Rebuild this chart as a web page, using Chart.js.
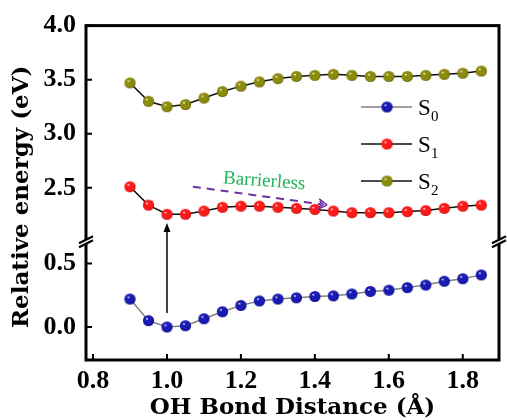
<!DOCTYPE html>
<html>
<head>
<meta charset="utf-8">
<title>Relative energy vs OH bond distance</title>
<script src="https://cdn.jsdelivr.net/npm/chart.js@4"></script>
<style>
  body { margin: 0; background: #fff; }
</style>
</head>
<body>
<canvas id="myChart" width="507" height="420"></canvas>
<script>
// OH bond distance (Å)
const bondLength = [0.90, 0.95, 1.00, 1.05, 1.10, 1.15, 1.20, 1.25, 1.30, 1.35,
                    1.40, 1.45, 1.50, 1.55, 1.60, 1.65, 1.70, 1.75, 1.80, 1.85];
// relative energies (eV)
const s0 = [0.22, 0.05, 0.00, 0.01, 0.065, 0.12, 0.17, 0.205, 0.22, 0.23,
            0.24, 0.245, 0.26, 0.28, 0.29, 0.31, 0.33, 0.36, 0.38, 0.41];
const s1 = [2.51, 2.34, 2.255, 2.255, 2.285, 2.32, 2.33, 2.33, 2.32, 2.31,
            2.30, 2.285, 2.27, 2.27, 2.27, 2.28, 2.29, 2.31, 2.33, 2.34];
const s2 = [3.47, 3.30, 3.25, 3.27, 3.33, 3.39, 3.44, 3.48, 3.51, 3.53,
            3.54, 3.55, 3.54, 3.53, 3.53, 3.53, 3.54, 3.55, 3.56, 3.58];

const xTicks = [0.8, 1.0, 1.2, 1.4, 1.6, 1.8];
const lowTicks = [0.0, 0.5];
const highTicks = [2.5, 3.0, 3.5, 4.0];

// shaded little balls for the markers
function ball(color, dark) {
    const c = document.createElement('canvas');
    c.width = 13; c.height = 13;
    const g = c.getContext('2d');
    const grad = g.createRadialGradient(4.8, 4.4, 0.2, 6.5, 6.5, 6);
    grad.addColorStop(0, '#ffffff');
    grad.addColorStop(0.22, color);
    grad.addColorStop(0.75, color);
    grad.addColorStop(1, dark);
    g.fillStyle = grad;
    g.beginPath();
    g.arc(6.5, 6.5, 5.6, 0, Math.PI * 2);
    g.fill();
    return c;
}
const blueBall = ball('#1a1ab4', '#000070');
const redBall = ball('#ff1a1a', '#b00000');
const oliveBall = ball('#8c8c0c', '#505000');

function pts(ys) {
    return bondLength.map((x, i) => ({ x: x, y: ys[i] }));
}

const tickFont = { family: 'Liberation Serif', weight: 'bold', size: 26 };

const decor = {
    id: 'decor',
    afterDraw(chart) {
        const ctx = chart.ctx;
        const a = chart.chartArea;
        const sx = chart.scales.x, lo = chart.scales.yLow, hi = chart.scales.yHigh;
        ctx.save();

        // inward ticks
        ctx.strokeStyle = '#000';
        ctx.lineWidth = 2;
        ctx.beginPath();
        xTicks.forEach(v => {
            const p = sx.getPixelForValue(v);
            ctx.moveTo(p, a.bottom); ctx.lineTo(p, a.bottom - 6);
        });
        lowTicks.forEach(v => {
            const p = lo.getPixelForValue(v);
            ctx.moveTo(a.left, p); ctx.lineTo(a.left + 6, p);
        });
        highTicks.forEach(v => {
            const p = hi.getPixelForValue(v);
            ctx.moveTo(a.left, p); ctx.lineTo(a.left + 6, p);
        });
        ctx.stroke();

        // frame
        ctx.lineWidth = 3;
        ctx.strokeRect(a.left, a.top, a.right - a.left, a.bottom - a.top);

        // axis break marks
        const by = hi.bottom;
        [a.left, a.right].forEach(bx => {
            ctx.fillStyle = '#fff';
            ctx.beginPath();
            ctx.moveTo(bx - 7, by + 5.5); ctx.lineTo(bx + 7, by - 1.5);
            ctx.lineTo(bx + 7, by - 5.5); ctx.lineTo(bx - 7, by + 1.5);
            ctx.closePath(); ctx.fill();
            ctx.strokeStyle = '#000';
            ctx.lineWidth = 2.2;
            ctx.beginPath();
            ctx.moveTo(bx - 7, by + 1.5); ctx.lineTo(bx + 7, by - 5.5);
            ctx.moveTo(bx - 7, by + 5.5); ctx.lineTo(bx + 7, by - 1.5);
            ctx.stroke();
        });

        // y title
        ctx.fillStyle = '#000';
        ctx.font = 'bold 23px "DejaVu Serif"';
        ctx.textAlign = 'center';
        ctx.textBaseline = 'middle';
        ctx.translate(22, (a.top + a.bottom) / 2 + 4);
        ctx.rotate(-Math.PI / 2);
        ctx.fillText('Relative energy (eV)', 0, 0);
        ctx.setTransform(1, 0, 0, 1, 0, 0);

        // legend
        const balls = [blueBall, redBall, oliveBall];
        chart.data.datasets.forEach((ds, i) => {
            const ly = 107 + i * 37;
            ctx.strokeStyle = ds.borderColor;
            ctx.lineWidth = 1.5;
            ctx.beginPath();
            ctx.moveTo(361, ly); ctx.lineTo(412, ly);
            ctx.stroke();
            ctx.drawImage(balls[i], 387 - 6.5, ly - 6.5);
            ctx.fillStyle = '#000';
            ctx.textAlign = 'left';
            ctx.textBaseline = 'alphabetic';
            ctx.font = '23px "Liberation Serif"';
            ctx.fillText(ds.label[0], 418, ly + 8);
            ctx.font = '15px "Liberation Serif"';
            ctx.fillText(ds.label.slice(1), 431, ly + 14);
        });

        // vertical excitation arrow
        const ax = sx.getPixelForValue(1.0);
        const ay0 = lo.getPixelForValue(0.11);
        const ay1 = hi.getPixelForValue(2.175);
        ctx.strokeStyle = '#000';
        ctx.fillStyle = '#000';
        ctx.lineWidth = 1.5;
        ctx.beginPath();
        ctx.moveTo(ax, ay0); ctx.lineTo(ax, ay1 + 6);
        ctx.stroke();
        ctx.beginPath();
        ctx.moveTo(ax, ay1); ctx.lineTo(ax - 3.5, ay1 + 9); ctx.lineTo(ax + 3.5, ay1 + 9);
        ctx.closePath(); ctx.fill();

        // dashed "barrierless" arrow
        const dx0 = sx.getPixelForValue(1.07), dy0 = hi.getPixelForValue(2.51);
        const dx1 = sx.getPixelForValue(1.433), dy1 = hi.getPixelForValue(2.34);
        const ang = Math.atan2(dy1 - dy0, dx1 - dx0);
        ctx.strokeStyle = '#7030a0';
        ctx.lineWidth = 2;
        ctx.setLineDash([8, 6]);
        ctx.beginPath();
        ctx.moveTo(dx0, dy0); ctx.lineTo(dx1 - 6 * Math.cos(ang), dy1 - 6 * Math.sin(ang));
        ctx.stroke();
        ctx.setLineDash([]);
        ctx.lineWidth = 1.5;
        ctx.beginPath();
        [-1, 1].forEach(sg => {
            ctx.moveTo(dx1 + 10 * Math.cos(ang + sg * 2.6), dy1 + 10 * Math.sin(ang + sg * 2.6));
            ctx.lineTo(dx1, dy1);
        });
        ctx.moveTo(dx1 - 8 * Math.cos(ang) + 3 * Math.sin(ang), dy1 - 8 * Math.sin(ang) - 3 * Math.cos(ang));
        ctx.lineTo(dx1 - 4 * Math.cos(ang), dy1 - 4 * Math.sin(ang));
        ctx.lineTo(dx1 - 8 * Math.cos(ang) - 3 * Math.sin(ang), dy1 - 8 * Math.sin(ang) + 3 * Math.cos(ang));
        ctx.stroke();

        // label
        const tx = sx.getPixelForValue(1.263), ty = hi.getPixelForValue(2.56);
        ctx.translate(tx, ty);
        ctx.rotate(0.075);
        ctx.fillStyle = '#22b25a';
        ctx.font = '19px "Liberation Serif"';
        ctx.textAlign = 'center';
        ctx.textBaseline = 'middle';
        ctx.fillText('Barrierless', 0, 0);
        ctx.restore();
    }
};

const ctx = document.getElementById('myChart');
const myChart = new Chart(ctx, {
    type: 'line',
    data: {
        datasets: [
            { label: 'S0', data: pts(s0), yAxisID: 'yLow', borderColor: '#808080', borderWidth: 1.5,
              pointStyle: blueBall, pointRadius: 5.5 },
            { label: 'S1', data: pts(s1), yAxisID: 'yHigh', borderColor: '#111111', borderWidth: 1.5,
              pointStyle: redBall, pointRadius: 5.5 },
            { label: 'S2', data: pts(s2), yAxisID: 'yHigh', borderColor: '#111111', borderWidth: 1.5,
              pointStyle: oliveBall, pointRadius: 5.5 }
        ]
    },
    options: {
        responsive: false,
        animation: false,
        devicePixelRatio: 1,
        layout: { padding: { left: 0, top: 25, right: 8, bottom: 0 } },
        plugins: { legend: { display: false }, tooltip: { enabled: false } },
        scales: {
            x: {
                type: 'linear',
                min: 0.781, max: 1.898,
                afterBuildTicks: s => { s.ticks = xTicks.map(v => ({ value: v })); },
                afterFit: s => { s.height = 60; },
                grid: { display: false, drawTicks: false },
                border: { display: false },
                ticks: { font: tickFont, color: '#000', padding: 6, maxRotation: 0, autoSkip: false,
                         callback: v => v.toFixed(1) },
                title: { display: true, text: 'OH Bond Distance (Å)', color: '#000', padding: 0,
                         font: { family: 'DejaVu Serif', weight: 'bold', size: 23, lineHeight: 1 } }
            },
            yLow: {
                type: 'linear', position: 'left', stack: 'energy', stackWeight: 118,
                min: -0.26, max: 0.67,
                afterBuildTicks: s => { s.ticks = lowTicks.map(v => ({ value: v })); },
                afterFit: s => { s.width = 86; },
                grid: { display: false, drawTicks: false },
                border: { display: false },
                ticks: { font: tickFont, color: '#000', padding: 10, callback: v => v.toFixed(1) }
            },
            yHigh: {
                type: 'linear', position: 'left', stack: 'energy', stackWeight: 216,
                min: 2.0, max: 4.0,
                afterBuildTicks: s => { s.ticks = highTicks.map(v => ({ value: v })); },
                afterFit: s => { s.width = 86; },
                grid: { display: false, drawTicks: false },
                border: { display: false },
                ticks: { font: tickFont, color: '#000', padding: 10, callback: v => v.toFixed(1) }
            }
        }
    },
    plugins: [decor]
});
</script>
</body>
</html>
